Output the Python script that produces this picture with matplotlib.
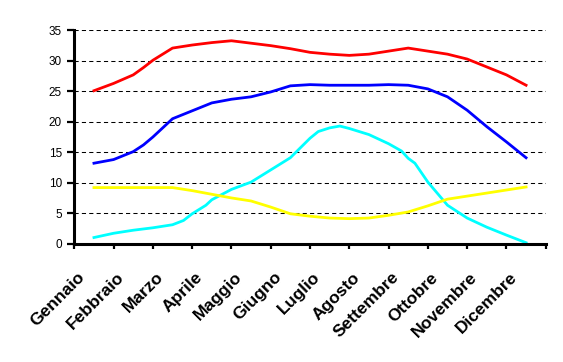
import matplotlib.pyplot as plt
from matplotlib.transforms import ScaledTranslation

plt.rcParams['font.family'] = ['Liberation Sans', 'DejaVu Sans']
plt.rcParams['lines.scale_dashes'] = False

mesi = ['Gennaio', 'Febbraio', 'Marzo', 'Aprile', 'Maggio', 'Giugno', 'Luglio',
        'Agosto', 'Settembre', 'Ottobre', 'Novembre', 'Dicembre']

# valori (x in mesi, 0 = Gennaio)
x_rosso = [0, 0.5, 1, 1.26, 1.5, 2, 2.5, 3, 3.5, 4, 4.5, 5, 5.5, 6, 6.5, 7, 7.5, 8,
           8.5, 9, 9.5, 10, 10.5, 11]
rosso = [25.1, 26.3, 27.7, 28.9, 30.1, 32.1, 32.6, 33.0, 33.3, 32.9, 32.5, 32.0, 31.4,
         31.1, 30.9, 31.1, 31.6, 32.1, 31.6, 31.1, 30.3, 29.0, 27.7, 26.0]

x_blu = [0, 0.5, 1, 1.26, 1.5, 2, 2.5, 3, 3.5, 4, 4.5, 5, 5.5, 6, 6.5, 7, 7.5, 8,
         8.5, 9, 9.5, 10, 10.5, 11]
blu = [13.2, 13.8, 15.1, 16.2, 17.5, 20.5, 21.8, 23.1, 23.7, 24.1, 24.9, 25.9, 26.1,
       26.0, 26.0, 26.0, 26.1, 26.0, 25.4, 24.1, 21.9, 19.2, 16.7, 14.1]

x_giallo = [0, 0.5, 1, 1.5, 2, 2.5, 3, 3.5, 4, 4.5, 5, 5.5, 6, 6.5, 7, 7.5, 8,
            8.5, 9, 9.5, 10, 10.5, 11]
giallo = [9.2, 9.2, 9.2, 9.2, 9.2, 8.7, 8.1, 7.5, 7.0, 6.0, 4.9, 4.5, 4.2, 4.1, 4.2,
          4.65, 5.2, 6.2, 7.3, 7.8, 8.3, 8.8, 9.3]

x_ciano = [0, 0.5, 1, 1.5, 2, 2.28, 2.5, 2.85, 3, 3.5, 4, 4.5, 5, 5.5, 5.71, 6, 6.26,
           6.5, 7, 7.5, 7.83, 8, 8.17, 8.5, 9, 9.5, 10, 10.5, 11]
ciano = [1.0, 1.7, 2.2, 2.6, 3.1, 3.8, 4.9, 6.3, 7.2, 8.9, 10.1, 12.1, 14.1, 17.3, 18.4,
         19.0, 19.3, 18.9, 17.9, 16.4, 15.2, 14.0, 13.2, 10.1, 6.3, 4.2, 2.7, 1.4, 0.15]

fig = plt.figure(figsize=(5.63, 3.62), dpi=100)
ax = fig.add_axes([0.132, 0.327, 0.8373, 0.589])

ax.plot(x_rosso, rosso, color='#ff0000', lw=2)
ax.plot(x_blu, blu, color='#0000ff', lw=2)
ax.plot(x_ciano, ciano, color='#00ffff', lw=2)
ax.plot(x_giallo, giallo, color='#ffff00', lw=2)

ax.set_xlim(-0.5, 11.5)
ax.set_ylim(0, 35)
ax.set_yticks(range(0, 36, 5))
for v in range(5, 36, 5):
    ax.axhline(v, color='black', lw=0.75, ls=(0, (3, 2.3)), zorder=0)

ax.set_xticks([i - 0.5 for i in range(13)])
ax.set_xticklabels([])
ax.tick_params(axis='x', direction='out', length=3.5, width=1.6)
ax.tick_params(axis='y', direction='out', length=5, width=1.6, labelsize=8.5, pad=4)

for s in ['top', 'right']:
    ax.spines[s].set_visible(False)
for s in ['left', 'bottom']:
    ax.spines[s].set_linewidth(2.2)

off = ScaledTranslation(-17 / 100, -26 / 100, fig.dpi_scale_trans)
for i, m in enumerate(mesi):
    ax.text(i, 0, m, transform=ax.get_xaxis_transform() + off, rotation=45,
            ha='right', va='top', rotation_mode='anchor', fontsize=12.5,
            fontweight='bold')

fig.savefig('out.png', dpi=100)
